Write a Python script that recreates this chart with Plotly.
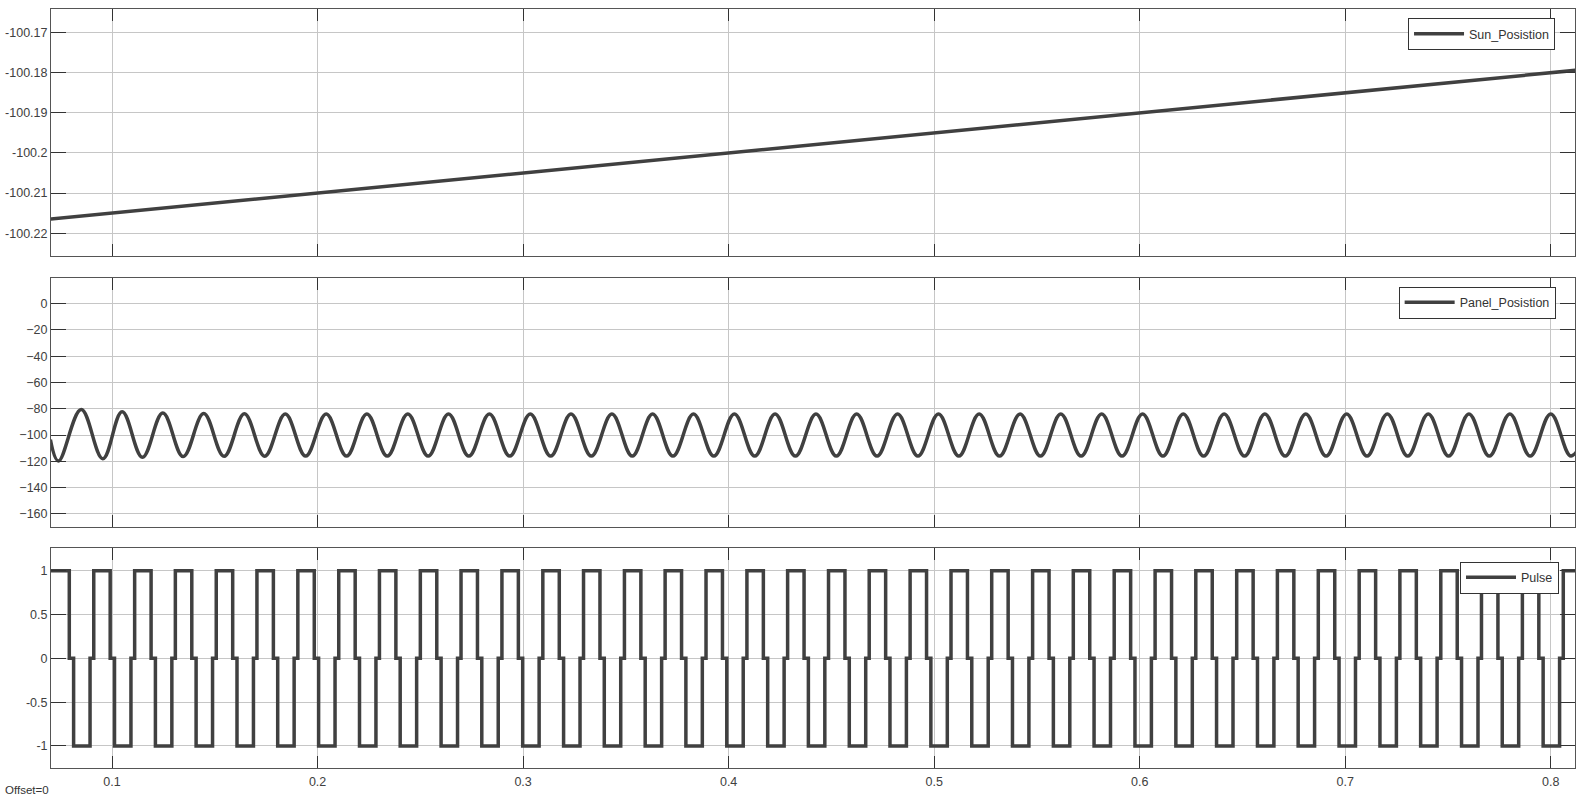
import plotly.graph_objects as go
from plotly.subplots import make_subplots

# Sun position (read at a few times, it is a straight line)
sun_t = [0.0700, 0.2000, 0.4000, 0.6000, 0.8120]
sun_v = [-100.2165, -100.2100, -100.2000, -100.1900, -100.1794]
sun_ticks = [-100.22, -100.21, -100.20, -100.19, -100.18, -100.17]
sun_ticklabels = ["-100.22", "-100.21", "-100.2", "-100.19", "-100.18", "-100.17"]

# Panel position: start point, then troughs and peaks
panel_start = (0.0700, -103.5)
trough_t = [0.0739, 0.0955, 0.1148, 0.1346, 0.1545, 0.1743, 0.1942, 0.2141, 0.2339, 0.2538,
            0.2736, 0.2935, 0.3134, 0.3332, 0.3531, 0.3729, 0.3928, 0.4127, 0.4325, 0.4524,
            0.4722, 0.4921, 0.5120, 0.5318, 0.5517, 0.5715, 0.5914, 0.6113, 0.6311, 0.6510,
            0.6708, 0.6907, 0.7106, 0.7304, 0.7503, 0.7701, 0.7900, 0.8099]
trough_v = [-119.8, -118.0, -116.9, -116.4, -116.2, -116.1, -116.0, -116.0, -116.0, -116.0,
            -116.0, -116.0, -116.0, -116.0, -116.0, -116.0, -116.0, -116.0, -116.0, -116.0,
            -116.0, -116.0, -116.0, -116.0, -116.0, -116.0, -116.0, -116.0, -116.0, -116.0,
            -116.0, -116.0, -116.0, -116.0, -116.0, -116.0, -116.0, -116.0]
peak_t = [0.0850, 0.1049, 0.1247, 0.1446, 0.1644, 0.1843, 0.2042, 0.2240, 0.2439, 0.2637,
          0.2836, 0.3035, 0.3233, 0.3432, 0.3630, 0.3829, 0.4028, 0.4226, 0.4425, 0.4623,
          0.4822, 0.5021, 0.5219, 0.5418, 0.5616, 0.5815, 0.6014, 0.6212, 0.6411, 0.6609,
          0.6808, 0.7007, 0.7205, 0.7404, 0.7602, 0.7801, 0.8000, 0.8198]
peak_v = [-80.6, -82.3, -83.3, -83.7, -83.9, -84.0, -84.0, -84.0, -84.0, -84.0,
          -84.0, -84.0, -84.0, -84.0, -84.0, -84.0, -84.0, -84.0, -84.0, -84.0,
          -84.0, -84.0, -84.0, -84.0, -84.0, -84.0, -84.0, -84.0, -84.0, -84.0,
          -84.0, -84.0, -84.0, -84.0, -84.0, -84.0, -84.0, -84.0]
panel_ticks = [-160, -140, -120, -100, -80, -60, -40, -20, 0]

# Pulse: times where it steps up to +1, plus the step durations
pulse_start = 0.0690
pulse_rise = [0.0712, 0.0911, 0.1110, 0.1308, 0.1507, 0.1705, 0.1904, 0.2103, 0.2301, 0.2500,
              0.2698, 0.2897, 0.3096, 0.3294, 0.3493, 0.3691, 0.3890, 0.4089, 0.4287, 0.4486,
              0.4684, 0.4883, 0.5082, 0.5280, 0.5479, 0.5677, 0.5876, 0.6075, 0.6273, 0.6472,
              0.6670, 0.6869, 0.7068, 0.7266, 0.7465, 0.7663, 0.7862, 0.8061]
pulse_high = 0.0080
pulse_gap = 0.0021
pulse_low = 0.0080
pulse_ticks = [-1, -0.5, 0, 0.5, 1]
pulse_ticklabels = ["-1", "-0.5", "0", "0.5", "1"]

x_ticks = [0.1, 0.2, 0.3, 0.4, 0.5, 0.6, 0.7, 0.8]

# build vertex tables
panel_x, panel_y = [panel_start[0]], [panel_start[1]]
for tt, tv, pt, pv in zip(trough_t, trough_v, peak_t, peak_v):
    panel_x += [tt, pt]
    panel_y += [tv, pv]

pulse_x, pulse_y = [pulse_start], [1]
for i, r in enumerate(pulse_rise):
    if i > 0:
        pulse_x.append(r)
        pulse_y.append(0)
    a = r + pulse_high
    b = a + pulse_gap
    c = b + pulse_low
    pulse_x += [r, a, a, b, b, c, c]
    pulse_y += [1, 1, 0, 0, -1, -1, 0]

LINE = "#404040"
FONT = "Liberation Sans, Arial, sans-serif"

fig = make_subplots(rows=3, cols=1, shared_xaxes=True)
fig.add_trace(go.Scatter(x=sun_t, y=sun_v, mode="lines", name="Sun_Posistion",
                         line=dict(color=LINE, width=3.5), legend="legend"), row=1, col=1)
fig.add_trace(go.Scatter(x=panel_x, y=panel_y, mode="lines", name="Panel_Posistion",
                         line=dict(color=LINE, width=3.5, shape="spline", smoothing=1.09),
                         legend="legend2"), row=2, col=1)
fig.add_trace(go.Scatter(x=pulse_x, y=pulse_y, mode="lines", name="Pulse",
                         line=dict(color=LINE, width=3.5), legend="legend3"), row=3, col=1)

axis_style = dict(
    showline=True, linecolor="#555555", linewidth=1, mirror="allticks",
    ticks="inside", tickcolor="#333333", tickwidth=1, automargin=False,
    showgrid=True, gridcolor="#c6c6c6", gridwidth=1, zeroline=False,
    tickfont=dict(family=FONT, size=12.5, color="#404040"),
)
for i in (1, 2, 3):
    fig.update_xaxes(axis_style, row=i, col=1, range=[0.0703, 0.8118],
                     tickvals=x_ticks, ticklen=12, showticklabels=(i == 3),
                     ticklabelstandoff=2)
fig.update_yaxes(axis_style, row=1, col=1, range=[-100.2257, -100.1641],
                 tickvals=sun_ticks, ticktext=sun_ticklabels, ticklen=15)
fig.update_yaxes(axis_style, row=2, col=1, range=[-170, 19.5],
                 tickvals=panel_ticks, ticklen=15)
fig.update_yaxes(axis_style, row=3, col=1, range=[-1.252, 1.26],
                 tickvals=pulse_ticks, ticktext=pulse_ticklabels, ticklen=15)

legend_style = dict(
    xanchor="right", yanchor="top", bgcolor="white", bordercolor="#333333",
    borderwidth=1, font=dict(family=FONT, size=12.5, color="#333333"),
    itemwidth=50,
)
fig.update_layout(
    width=1581, height=808,
    paper_bgcolor="white", plot_bgcolor="white",
    margin=dict(l=51, r=6, t=9, b=40, autoexpand=False),
    showlegend=True,
    yaxis=dict(domain=[0.6746, 1.0]),
    yaxis2=dict(domain=[0.3175, 0.6456]),
    yaxis3=dict(domain=[0.0, 0.2899]),
    legend=dict(legend_style, x=0.9869, y=0.9881),
    legend2=dict(legend_style, x=0.9873, y=0.6341),
    legend3=dict(legend_style, x=0.9895, y=0.2718),
    hovermode=False,
    annotations=[dict(text="Offset=0", xref="paper", yref="paper", x=-0.0315, y=-0.029,
                      xanchor="left", yanchor="middle", showarrow=False,
                      font=dict(family=FONT, size=11.5, color="#333333"))],
)

# the page body has a default 8px margin; remove it so the figure sits at 0,0
fig.write_html("out.html", config={"displayModeBar": False},
               post_script="document.body.style.margin='0';document.body.style.overflow='hidden';")
